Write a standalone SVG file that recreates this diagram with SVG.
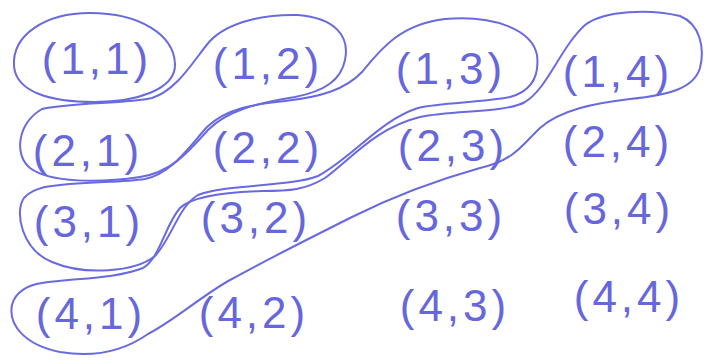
<svg xmlns="http://www.w3.org/2000/svg" width="704" height="360" viewBox="0 0 704 360">
<style>
.t{font-family:"Liberation Sans","DejaVu Sans",sans-serif;font-size:44px;fill:#6666dd;text-anchor:middle;letter-spacing:4px}
.l{fill:none;stroke:#6a6ae0;stroke-width:2;stroke-linejoin:round;stroke-linecap:round}
</style>
<rect width="704" height="360" fill="#ffffff"/>
<g id="loops">
<path id="loop1" class="l" d="M 14,66 C 12,35 45,13 90,13 C 140,13 174,35 175,64 C 176,90 135,102 95,102 C 50,102 16,92 14,66 Z"/>
<path id="loop2" class="l" d="M 42,109 C 75,102 125,104 152,98 C 178,90 195,58 210,41 C 228,22 265,14 298,15 C 335,18 350,36 345,60 C 341,80 325,91 295,97 C 258,103 228,110 208,130 C 188,152 172,172 140,177 C 100,183 50,183 30,168 C 14,155 17,124 42,109 Z"/>
<path id="loop3" class="l" d="M 45,187 C 80,181 120,183 145,179 C 172,173 188,148 207,127 C 227,108 255,104 285,101 C 320,97 345,90 362,72 C 380,50 400,24 445,19 C 495,15 532,30 537,55 C 540,80 528,92 510,97 C 480,103 442,102 418,108 C 380,120 352,158 318,176 C 290,187 225,184 198,195 C 178,207 172,238 155,256 C 135,272 85,276 52,262 C 22,250 14,212 24,198 C 30,191 38,189 45,187 Z"/>
<path id="loop4" class="l" d="M 42,283 C 75,278 115,279 143,268 C 160,258 165,225 180,208 C 192,196 230,192 262,191 C 290,191 305,190 325,178 C 350,160 375,128 420,117 C 455,110 505,113 525,102 C 548,88 560,48 585,25 C 605,10 650,9 680,16 C 700,24 705,48 700,68 C 694,88 670,95 630,99 C 595,103 560,110 540,128 C 522,145 515,160 480,168 C 430,182 390,198 352,217 C 310,238 270,258 230,280 C 200,297 175,320 148,334 C 125,350 95,358 60,352 C 25,345 8,325 12,305 C 15,292 28,285 42,283 Z"/>
</g>
<g id="labels">
<text class="t" x="97" y="74">(1,1)</text>
<text class="t" x="268" y="79">(1,2)</text>
<text class="t" x="451" y="84">(1,3)</text>
<text class="t" x="618" y="87">(1,4)</text>
<text class="t" x="88" y="166">(2,1)</text>
<text class="t" x="268" y="163">(2,2)</text>
<text class="t" x="453" y="161">(2,3)</text>
<text class="t" x="618" y="157">(2,4)</text>
<text class="t" x="89" y="237">(3,1)</text>
<text class="t" x="256" y="233">(3,2)</text>
<text class="t" x="451" y="231">(3,3)</text>
<text class="t" x="619" y="224">(3,4)</text>
<text class="t" x="91" y="329">(4,1)</text>
<text class="t" x="254" y="328">(4,2)</text>
<text class="t" x="455" y="321">(4,3)</text>
<text class="t" x="629" y="312">(4,4)</text>
</g>
</svg>
